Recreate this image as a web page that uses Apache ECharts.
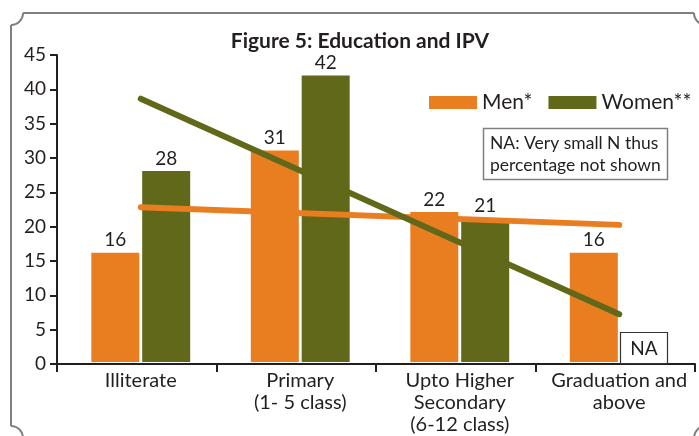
<!DOCTYPE html>
<html>
<head>
<meta charset="utf-8">
<script src="https://cdn.jsdelivr.net/npm/echarts@6/dist/echarts.min.js"></script>
<style>html,body{margin:0;padding:0;background:#fff}#c{width:699px;height:436px}</style>
</head>
<body>
<div id="c"></div>
<script>
const categories = ['Illiterate', 'Primary\n(1- 5 class)', 'Upto Higher\nSecondary\n(6-12 class)', 'Graduation and\nabove'];
const menValues = [16, 31, 22, 16];
const womenValues = [28, 42, 21, null];
const menTrend = [22.7, null, null, 20.1];
const womenTrend = [38.6, null, null, 7.0];
const yTicks = {min: 0, max: 45, interval: 5};

const FONT = 'Lato';
const TXT = '#231f20';
const ORANGE = '#E97E21';
const GREEN = '#616819';
const FRAME = '#808080';

const frameStyle = {stroke: FRAME, lineWidth: 2, fill: null};
const frame = [
  {type: 'line', shape: {x1: 23, y1: 13, x2: 694, y2: 13}, style: frameStyle},
  {type: 'line', shape: {x1: 706, y1: 25, x2: 706, y2: 426}, style: frameStyle},
  {type: 'line', shape: {x1: 23, y1: 438, x2: 694, y2: 438}, style: frameStyle},
  {type: 'line', shape: {x1: 11, y1: 25, x2: 11, y2: 426}, style: frameStyle},
  {type: 'arc', shape: {cx: 11, cy: 13, r: 12, startAngle: 0, endAngle: Math.PI / 2, clockwise: true}, style: frameStyle},
  {type: 'arc', shape: {cx: 706, cy: 13, r: 12, startAngle: Math.PI / 2, endAngle: Math.PI, clockwise: true}, style: frameStyle},
  {type: 'arc', shape: {cx: 706, cy: 438, r: 12, startAngle: Math.PI, endAngle: Math.PI * 1.5, clockwise: true}, style: frameStyle},
  {type: 'arc', shape: {cx: 11, cy: 438, r: 12, startAngle: Math.PI * 1.5, endAngle: Math.PI * 2, clockwise: true}, style: frameStyle}
];

const chart = echarts.init(document.getElementById('c'), null, {renderer: 'canvas'});
chart.setOption({
  animation: false,
  textStyle: {fontFamily: FONT, color: TXT},
  title: {
    text: 'Figure 5: Education and IPV',
    left: 355, top: 26, textAlign: 'center',
    textStyle: {fontFamily: FONT, fontWeight: 'bold', fontSize: 21, color: TXT}
  },
  legend: {
    data: ['Men*', 'Women**'],
    left: 424, top: 87, width: 300, orient: 'horizontal',
    itemWidth: 48, itemHeight: 13, itemGap: 16,
    icon: 'rect',
    textStyle: {fontFamily: FONT, fontSize: 21, color: TXT}
  },
  grid: [
    {left: 57, right: 4, top: 55, bottom: 72, containLabel: false},
    {left: 61, right: 0, top: 55, bottom: 72, containLabel: false}
  ],
  xAxis: [
    {
      gridIndex: 0, type: 'category', data: categories, boundaryGap: true,
      axisLine: {lineStyle: {color: TXT, width: 2}},
      axisTick: {show: true, length: 8, alignWithLabel: false, lineStyle: {color: TXT, width: 2}},
      axisLabel: {show: false}
    },
    {
      gridIndex: 1, type: 'category', data: categories, boundaryGap: true,
      axisLine: {show: false}, axisTick: {show: false},
      axisLabel: {fontFamily: FONT, fontSize: 20, color: TXT, margin: 8, lineHeight: 22, interval: 0}
    }
  ],
  yAxis: [
    {
      gridIndex: 0, type: 'value',
      min: yTicks.min, max: yTicks.max, interval: yTicks.interval,
      axisLine: {show: true, lineStyle: {color: TXT, width: 2}},
      axisTick: {show: true, length: 7, lineStyle: {color: TXT, width: 2}},
      splitLine: {show: false},
      axisLabel: {fontFamily: FONT, fontSize: 19, color: TXT, margin: 11}
    },
    {
      gridIndex: 1, type: 'value',
      min: yTicks.min, max: yTicks.max, interval: yTicks.interval,
      show: false, splitLine: {show: false}
    }
  ],
  series: [
    {
      name: 'Men*', type: 'bar', data: menValues, xAxisIndex: 1, yAxisIndex: 1,
      barWidth: 48, barGap: '6%',
      itemStyle: {color: ORANGE},
      label: {show: true, position: 'top', distance: 3, fontFamily: FONT, fontSize: 19, color: TXT},
      z: 2
    },
    {
      name: 'Women**', type: 'bar', data: womenValues, xAxisIndex: 1, yAxisIndex: 1,
      barWidth: 48, barGap: '6%',
      itemStyle: {color: GREEN},
      label: {show: true, position: 'top', distance: 3, fontFamily: FONT, fontSize: 19, color: TXT},
      z: 2
    },
    {
      name: 'Men trend', type: 'line', data: menTrend, connectNulls: true, xAxisIndex: 1, yAxisIndex: 1,
      symbol: 'none', lineStyle: {color: ORANGE, width: 6, cap: 'round'}, z: 5, silent: true
    },
    {
      name: 'Women trend', type: 'line', data: womenTrend, connectNulls: true, xAxisIndex: 1, yAxisIndex: 1,
      symbol: 'none', lineStyle: {color: GREEN, width: 6, cap: 'round'}, z: 5, silent: true
    }
  ],
  graphic: frame.concat([
    {
      type: 'rect', z: 10,
      shape: {x: 483.5, y: 128.5, width: 184, height: 51},
      style: {fill: '#fff', stroke: FRAME, lineWidth: 1.5}
    },
    {
      type: 'text', z: 11, left: 490, top: 132,
      style: {text: 'NA: Very small N thus\npercentage not shown', fontFamily: FONT, fontSize: 17.5, lineHeight: 22, fill: TXT}
    },
    {
      type: 'rect', z: 10,
      shape: {x: 620.5, y: 332.5, width: 47, height: 31},
      style: {fill: '#fff', stroke: '#333', lineWidth: 1.2}
    },
    {
      type: 'text', z: 11, x: 644, y: 349,
      style: {text: 'NA', fontFamily: FONT, fontSize: 19, fill: TXT, align: 'center', verticalAlign: 'middle'}
    }
  ])
});
</script>
</body>
</html>
